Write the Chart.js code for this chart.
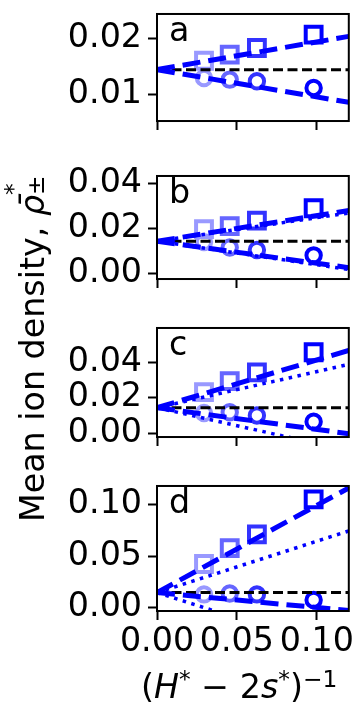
<!DOCTYPE html>
<html>
<head>
<meta charset="utf-8">
<script src="https://cdn.jsdelivr.net/npm/chart.js@4.4.0/dist/chart.umd.min.js"></script>
<style>
body { margin: 0; width: 364px; height: 711px; background: #fff; position: relative; overflow: hidden; font-family: 'DejaVu Sans'; }
canvas { position: absolute; left: 0; }
#ylab { position: absolute; left: 11px; top: 522px; transform-origin: 0 0; transform: rotate(-90deg); white-space: nowrap; font-size: 33.3px; line-height: 1; }
#xlab { position: absolute; left: 141px; top: 670px; white-space: nowrap; font-size: 33.3px; line-height: 1; }
.sup { font-size: 0.7em; position: relative; top: -0.47em; }
.stack { display: inline-block; position: relative; width: 0.45em; height: 1em; }
.stack span { position: absolute; left: 0; font-size: 0.7em; }
</style>
</head>
<body>
<canvas id="pa"></canvas>
<canvas id="pb"></canvas>
<canvas id="pc"></canvas>
<canvas id="pd"></canvas>
<div id="ylab">Mean ion density, <i>ρ̄</i><span class="stack"><span style="top:-0.45em">*</span><span style="top:0.55em">±</span></span></div>
<div id="xlab">(<i>H</i><span class="sup">*</span> − 2<i>s</i><span class="sup">*</span>)<span class="sup">−1</span></div>
<script>
// shared x values
const xMarks = [0.0294, 0.0455, 0.0625, 0.098];
const xLine = [0, 0.12];
const xTicks = [0, 0.05, 0.1];
const markColors = ['#9999ff', '#6666ff', '#3333ff', '#0000ff'];

// panel a
const sqA = [0.0160, 0.0171, 0.0183, 0.0207];
const ciA = [0.0129, 0.0126, 0.0123, 0.0111];
const dashUpA = [0.0144, 0.0204];
const dashLoA = [0.0144, 0.0085];
const flatA = [0.0144, 0.0144];
const yTicksA = [0.01, 0.02];
const yLimA = [0.00514, 0.02443];

// panel b
const sqB = [0.0198, 0.0211, 0.0236, 0.0291];
const ciB = [0.0140, 0.0116, 0.0105, 0.0081];
const dashUpB = [0.0144, 0.0281];
const dotUpB = [0.0144, 0.0270];
const dashLoB = [0.0144, 0.0026];
const dotLoB = [0.0144, 0.0018];
const flatB = [0.0144, 0.0144];
const yTicksB = [0.0, 0.02, 0.04];
const yLimB = [-0.00246, 0.0435];

// panel c
const sqC = [0.0232, 0.0295, 0.0345, 0.0459];
const ciC = [0.0114, 0.0118, 0.0100, 0.0064];
const dashUpC = [0.0144, 0.0470];
const dotUpC = [0.0144, 0.0390];
const dashLoC = [0.0144, -0.0004];
const dotLoC = [0.0144, -0.0101];
const flatC = [0.0144, 0.0144];
const yTicksC = [0.0, 0.02, 0.04];
const yLimC = [-0.00227, 0.0597];

// panel d
const sqD = [0.0423, 0.0577, 0.0712, 0.1054];
const ciD = [0.0126, 0.0135, 0.0126, 0.0072];
const dashUpD = [0.0144, 0.1165];
const dotUpD = [0.0144, 0.0745];
const dashLoD = [0.0144, -0.0031];
const dotLoD = [0.0144, -0.0455];
const flatD = [0.0144, 0.0144];
const yTicksD = [0.0, 0.05, 0.1];
const yLimD = [-0.0036, 0.1184];

const FONT = { family: 'DejaVu Sans', size: 33.3 };

function line(ys, kind) {
    let st = {
        dash: { color: '#0000ff', w: 5, d: [18, 8] },
        dot: { color: '#0000ff', w: 3.5, d: [3.5, 5.5] },
        flat: { color: '#000000', w: 3, d: [10, 4.5] }
    }[kind];
    return {
        type: 'line',
        data: xLine.map((x, i) => ({ x: x, y: ys[i] })),
        borderColor: st.color, borderWidth: st.w, borderDash: st.d,
        pointRadius: 0, fill: false, clip: 0, order: 0
    };
}

function marks(ys, shape) {
    return {
        type: 'scatter',
        data: xMarks.map((x, i) => ({ x: x, y: ys[i] })),
        pointStyle: shape,
        pointRadius: shape === 'rect' ? 11.2 : 7.2,
        pointBorderWidth: 4,
        pointBorderColor: markColors,
        pointBackgroundColor: 'rgba(0,0,0,0)',
        order: 1
    };
}

// box round each panel + the panel letter
const frame = {
    id: 'frame',
    afterDraw(chart, args, opts) {
        const ctx = chart.ctx, a = chart.chartArea;
        ctx.save();
        ctx.strokeStyle = '#000';
        ctx.lineWidth = 2;
        ctx.strokeRect(a.left, a.top, a.right - a.left, a.bottom - a.top);
        ctx.fillStyle = '#000';
        ctx.font = '33.3px "DejaVu Sans"';
        ctx.fillText(opts.letter, a.left + 12, a.top + 27);
        ctx.restore();
    }
};

function panel(id, top, bottom, xAxisH, letter, datasets, yLim, yTicks, showX) {
    const padTop = 14;
    const cv = document.getElementById(id);
    const h = bottom - top + padTop + xAxisH;
    cv.width = 364; cv.height = h;
    cv.style.width = '364px'; cv.style.height = h + 'px';
    cv.style.top = (top - padTop) + 'px';
    const tickGrid = { display: true, drawOnChartArea: false, drawTicks: true, tickLength: 9, tickWidth: 2, tickColor: '#000' };
    new Chart(cv, {
        type: 'scatter',
        data: { datasets: datasets },
        options: {
            responsive: false, animation: false,
            layout: { padding: { top: padTop, right: 15, left: 0, bottom: 0 } },
            plugins: { legend: { display: false }, tooltip: { enabled: false }, frame: { letter: letter } },
            scales: {
                x: {
                    type: 'linear', min: 0, max: 0.12,
                    afterBuildTicks: s => { s.ticks = xTicks.map(v => ({ value: v })); },
                    afterFit: s => { s.height = xAxisH; },
                    ticks: { display: showX, font: FONT, color: '#000', padding: 2, maxRotation: 0, callback: v => v.toFixed(2) },
                    grid: tickGrid,
                    border: { display: false }
                },
                y: {
                    min: yLim[0], max: yLim[1],
                    afterBuildTicks: s => { s.ticks = yTicks.map(v => ({ value: v })); },
                    afterFit: s => { s.width = 157; },
                    ticks: { font: FONT, color: '#000', padding: 6, callback: v => v.toFixed(2) },
                    grid: tickGrid,
                    border: { display: false }
                }
            }
        },
        plugins: [frame]
    });
}

panel('pa', 2, 137, 10, 'a', [
    line(dashUpA, 'dash'), line(dashLoA, 'dash'), line(flatA, 'flat'),
    marks(sqA, 'rect'), marks(ciA, 'circle')
], yLimA, yTicksA, false);

panel('pb', 164, 295, 10, 'b', [
    line(dashUpB, 'dash'), line(dashLoB, 'dash'), line(dotUpB, 'dot'), line(dotLoB, 'dot'), line(flatB, 'flat'),
    marks(sqB, 'rect'), marks(ciB, 'circle')
], yLimB, yTicksB, false);

panel('pc', 316, 453, 10, 'c', [
    line(dashUpC, 'dash'), line(dashLoC, 'dash'), line(dotUpC, 'dot'), line(dotLoC, 'dot'), line(flatC, 'flat'),
    marks(sqC, 'rect'), marks(ciC, 'circle')
], yLimC, yTicksC, false);

panel('pd', 474, 611, 100, 'd', [
    line(dashUpD, 'dash'), line(dashLoD, 'dash'), line(dotUpD, 'dot'), line(dotLoD, 'dot'), line(flatD, 'flat'),
    marks(sqD, 'rect'), marks(ciD, 'circle')
], yLimD, yTicksD, true);
</script>
</body>
</html>
